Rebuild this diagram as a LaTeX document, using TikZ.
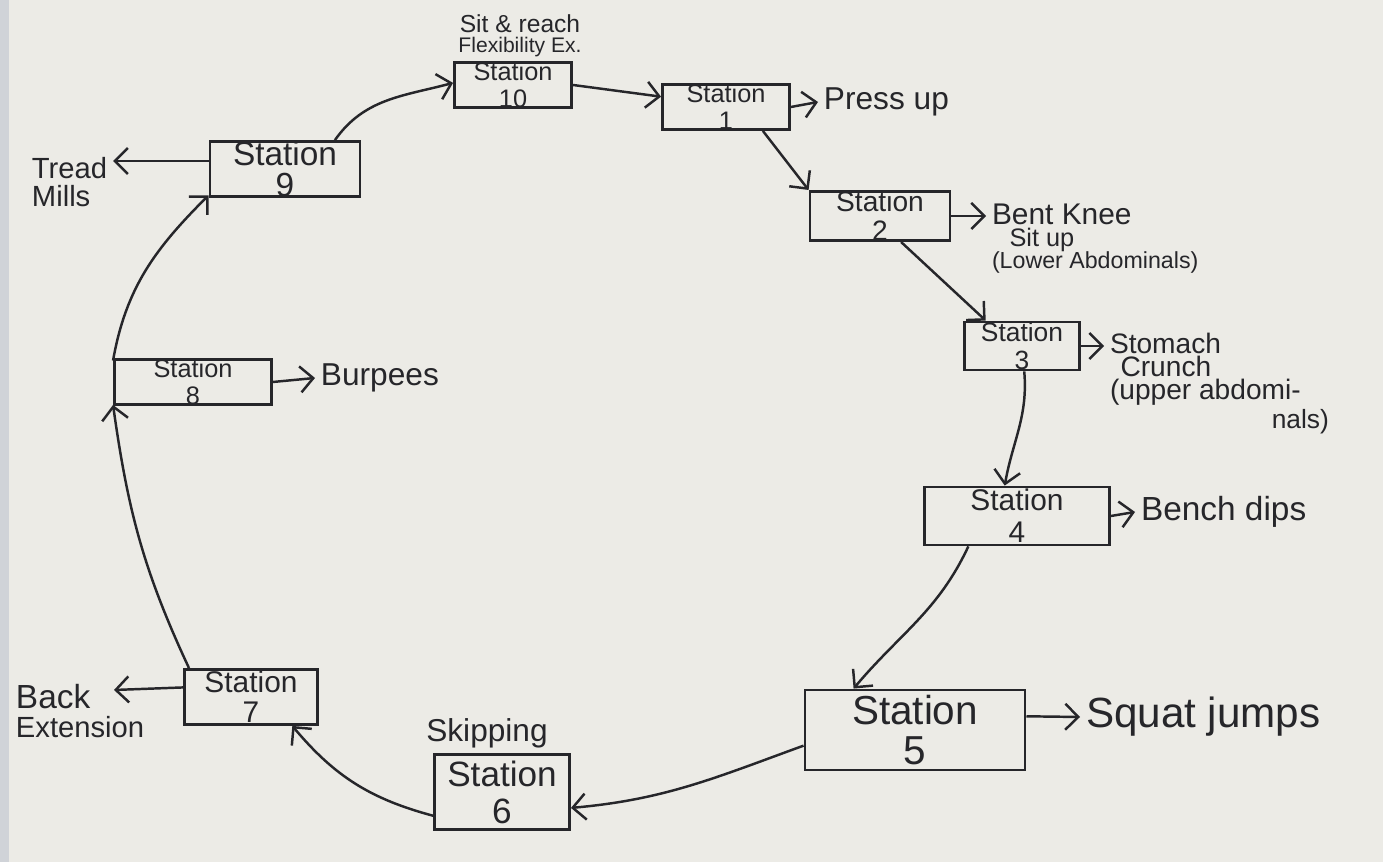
\documentclass[tikz,border=0pt]{standalone}
\usepackage{fontspec}
\setmainfont{Liberation Sans}
\usetikzlibrary{arrows.meta}
\definecolor{paper}{RGB}{236,235,230}
\definecolor{strip}{RGB}{208,211,216}
\definecolor{ink}{RGB}{38,38,42}
\newcommand\myfs[2]{\fontsize{#1}{#2}\selectfont}
\begin{document}
\begin{tikzpicture}[x=0.01cm,y=0.01cm,
  stbox/.style={draw=ink, line width=0.8pt, align=center, inner sep=0pt, text=ink},
  lbl/.style={text=ink, inner sep=1.5pt},
  conn/.style={draw=ink, line width=0.7pt, -{Straight Barb[length=1.3mm,width=2.6mm]}}]
\useasboundingbox (0,0) rectangle (1383,862);
\fill[paper] (0,0) rectangle (1383,862);
\fill[strip] (0,0) rectangle (9,862);

% station boxes
\node[stbox, minimum width=1.17cm, minimum height=0.37cm, font=\myfs{7.2}{7.6}] (s10) at (513,777) {Station\\10};
\node[stbox, minimum width=1.27cm, minimum height=0.38cm, font=\myfs{7.2}{7.6}] (s1) at (726,755) {Station\\1};
\node[stbox, minimum width=1.40cm, minimum height=0.47cm, font=\myfs{8}{8.2}] (s2) at (880,646) {Station\\2};
\node[stbox, minimum width=1.15cm, minimum height=0.48cm, font=\myfs{7.5}{8}] (s3) at (1022,516) {Station\\3};
\node[stbox, minimum width=1.85cm, minimum height=0.58cm, font=\myfs{8.5}{9}] (s4) at (1017,346) {Station\\4};
\node[stbox, minimum width=2.20cm, minimum height=0.80cm, font=\myfs{11.5}{11.5}] (s5) at (915,132) {Station\\5};
\node[stbox, minimum width=1.35cm, minimum height=0.75cm, font=\myfs{10}{10.5}] (s6) at (502,70) {Station\\6};
\node[stbox, minimum width=1.33cm, minimum height=0.55cm, font=\myfs{8.5}{8.5}] (s7) at (251,165) {Station\\7};
\node[stbox, minimum width=1.57cm, minimum height=0.40cm, font=\myfs{7.2}{7.6}] (s8) at (193,480) {Station\\8};
\node[stbox, minimum width=1.50cm, minimum height=0.52cm, font=\myfs{9.5}{8.6}] (s9) at (285,693) {Station\\9};

% labels
\node[lbl, align=center, font=\myfs{6}{5.6}] (sr) at (520,826)
  {{\myfs{7}{5.6}Sit \& reach}\\Flexibility Ex.};
\node[lbl, anchor=west, font=\myfs{9}{9}] (press) at (818,760) {Press up};
\node[lbl, align=left, anchor=north west, font=\myfs{6.6}{6.3}] (bk) at (986,664)
  {{\myfs{8.5}{6.3}Bent Knee}\\\hspace*{5pt}{\myfs{7.2}{6.3}Sit up}\\(Lower Abdominals)};
\node[lbl, align=left, anchor=north west, font=\myfs{8}{6.6}] (st) at (1104,535)
  {Stomach\\\hspace*{3pt}Crunch\\(upper abdomi-\\\hspace*{46pt}{\myfs{7.5}{6.6}nals)}};
\node[lbl, anchor=west, font=\myfs{9.5}{9.5}] (bench) at (1135,350) {Bench dips};
\node[lbl, anchor=west, font=\myfs{12}{12}] (squat) at (1080,145) {Squat jumps};
\node[lbl, font=\myfs{9}{9}] (skip) at (487,129) {Skipping};
\node[lbl, anchor=west, font=\myfs{9}{9}] (burp) at (315,484) {Burpees};
\node[lbl, align=left, anchor=north west, font=\myfs{8.3}{8.2}] (tr) at (26,711) {Tread\\Mills};
\node[lbl, align=left, anchor=north west, font=\myfs{8.3}{8.2}] (ba) at (10,184)
  {{\myfs{9.5}{8.2}Back}\\Extension};
\coordinate (batip) at (114,172);

% circuit connectors
\draw[conn] (s10.east) -- (s1.171);
\draw[conn] (s1.-33) -- (s2.160);
\draw[conn] (s2.-51) -- (s3.145);
\draw[conn] (s3.-85) to[out=-85,in=80] (s4.112);
\draw[conn] (s4.-148) to[out=-115,in=50] (s5.146);
\draw[conn] (s5.188) to[out=200,in=5] (s6.-13);
\draw[conn] (s6.199) to[out=165,in=-50] (s7.-35);
\draw[conn] (s7.155) to[out=115,in=-82] (s8.-164);
\draw[conn] (s8.165) to[out=80,in=-135] (s9.199);
\draw[conn] (s9.30) to[out=55,in=195] (s10.178);

% exercise arrows
\draw[conn] (s1.east) -- (press.west);
\draw[conn] (s2.east) -- (bk.west |- s2.east);
\draw[conn] (s3.east) -- (st.west |- s3.east);
\draw[conn] (s4.east) -- (bench.west);
\draw[conn] (s5.7) -- (squat.west);
\draw[conn] (s8.east) -- (burp.west);
\draw[conn] (s9.174) -- (tr.east |- s9.174);
\draw[conn] (s7.172) -- (batip);
\end{tikzpicture}
\end{document}
